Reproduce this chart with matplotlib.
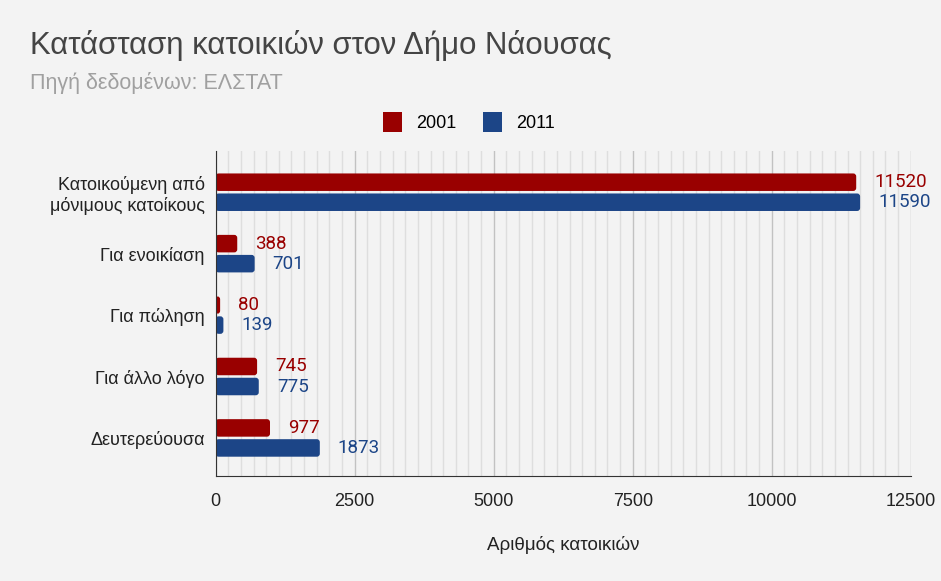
import matplotlib.pyplot as plt
from matplotlib.patches import FancyBboxPatch
from matplotlib.ticker import MultipleLocator
import numpy as np

# === Δεδομένα ===
categories = ["Κατοικούμενη από\nμόνιμους κατοίκους", "Για ενοικίαση",
              "Για πώληση", "Για άλλο λόγο", "Δευτερεύουσα"]
values_2001 = [11520, 388, 80, 745, 977]
values_2011 = [11590, 701, 139, 775, 1873]
years = ["2001", "2011"]

BG = "#f3f3f3"
RED = "#990000"
BLUE = "#1c4587"

fig = plt.figure(figsize=(9.41, 5.81), dpi=100, facecolor=BG)
ax = fig.add_axes([0.2292, 0.1807, 0.7386, 0.5593], facecolor=BG)

y = np.arange(len(categories))
h = 0.285
off = 0.163

bars_a = ax.barh(y - off, values_2001, height=h, color=RED)
bars_b = ax.barh(y + off, values_2011, height=h, color=BLUE)

ax.set_xlim(0, 12500)
ax.set_ylim(4.62, -0.67)

# Στρογγυλεμένες άκρες στις μπάρες
px_x = 12500 / 695.0
px_y = 5.29 / 325.0
for bars in (bars_a, bars_b):
    for r in bars:
        r.set_visible(False)
        p = FancyBboxPatch((r.get_x(), r.get_y()), r.get_width(), r.get_height(),
                           boxstyle=f"round,pad=0,rounding_size={3 * px_x}",
                           mutation_aspect=px_y / px_x,
                           facecolor=r.get_facecolor(), edgecolor="none", zorder=3)
        ax.add_patch(p)

# Ετικέτες τιμών
for yy, v in zip(y - off, values_2001):
    ax.text(v + 18 * px_x, yy, str(v), color=RED, va="center", ha="left",
            fontsize=13.5, family="Roboto")
for yy, v in zip(y + off, values_2011):
    ax.text(v + 18 * px_x, yy, str(v), color=BLUE, va="center", ha="left",
            fontsize=13.5, family="Roboto")

# Πλέγμα
ax.xaxis.set_major_locator(MultipleLocator(2500))
ax.xaxis.set_minor_locator(MultipleLocator(2500 / 11))
ax.grid(axis="x", which="major", color="#c2c2c2", linewidth=1, zorder=0)
ax.grid(axis="x", which="minor", color="#dedede", linewidth=1, zorder=0)
ax.set_axisbelow(True)

for s in ["top", "right"]:
    ax.spines[s].set_visible(False)
ax.spines["left"].set_color("#333333")
ax.spines["bottom"].set_color("#333333")
ax.spines["left"].set_zorder(4)

ax.tick_params(axis="both", which="both", length=0)
ax.tick_params(axis="x", pad=12)
ax.tick_params(axis="y", pad=8)
ax.set_yticks(y)
ax.set_yticklabels(categories, fontsize=13, family="Liberation Sans", color="#222222")
for lbl in ax.get_xticklabels():
    lbl.set_fontsize(13)
    lbl.set_family("Liberation Sans")
    lbl.set_color("#222222")

ax.set_xlabel("Αριθμός κατοικιών", fontsize=13.5, family="Liberation Sans",
              color="#222222", labelpad=19)

# Τίτλοι
fig.text(30 / 941, 1 - 54 / 581, "Κατάσταση κατοικιών στον Δήμο Νάουσας",
         fontsize=22.4, family="Liberation Sans", color="#444444", va="baseline")
fig.text(30 / 941, 1 - 89 / 581, "Πηγή δεδομένων: ΕΛΣΤΑΤ",
         fontsize=15.5, family="Liberation Sans", color="#a0a0a0", va="baseline")

# Υπόμνημα
handles = [FancyBboxPatch((0, 0), 1, 1, boxstyle="round,pad=0,rounding_size=0.1",
                          facecolor=c, edgecolor="none") for c in (RED, BLUE)]
leg = fig.legend(handles, years, loc="center", bbox_to_anchor=(469 / 941, 1 - 122 / 581),
                 ncol=2, frameon=False, handlelength=1.05, handleheight=1.3,
                 handletextpad=0.75, columnspacing=1.5,
                 prop={"family": "Liberation Sans", "size": 13})

fig.savefig("out.png", dpi=100, facecolor=BG)
